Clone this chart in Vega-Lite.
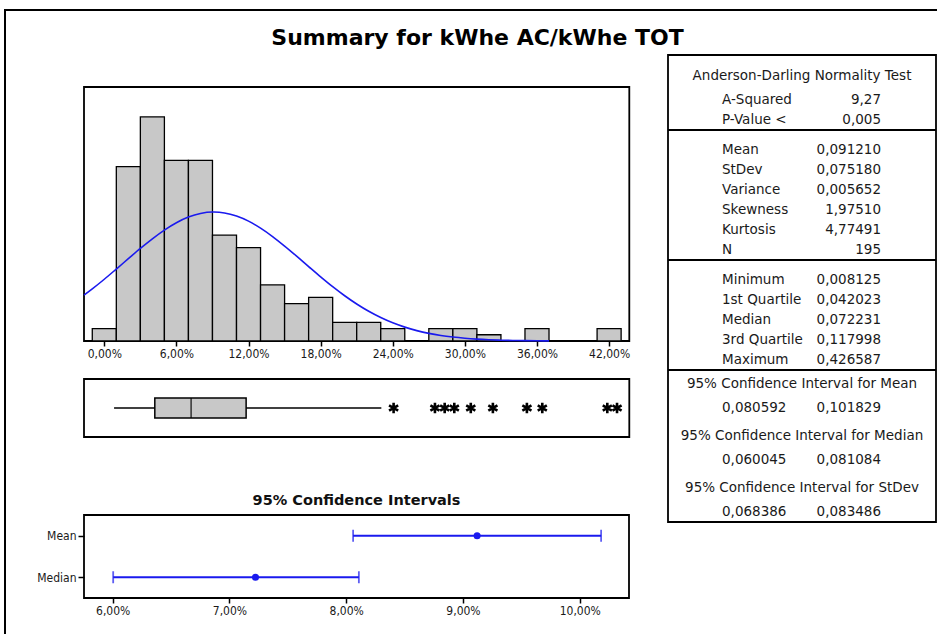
{
  "$schema": "https://vega.github.io/schema/vega-lite/v6.json",
  "width": 935,
  "height": 630,
  "autosize": {"type": "none"},
  "padding": {"left": 5, "top": 10, "right": 0, "bottom": 0},
  "background": "white",
  "title": {"text": "Summary for kWhe AC/kWhe TOT", "font": "DejaVu Sans", "fontSize": 22, "fontWeight": "bold", "color": "#000", "anchor": "middle", "frame": "group", "offset": -35, "baseline": "alphabetic", "dx": 5, "dy": 22},
  "config": {
    "font": "DejaVu Sans",
    "view": {"stroke": "#000", "strokeWidth": 2},
    "axis": {"domain": false, "grid": false, "tickColor": "#000", "tickWidth": 1.5, "tickSize": 5, "labelFont": "DejaVu Sans Condensed", "labelFontSize": 12, "labelColor": "#1a1a1a", "labelPadding": 2, "labelFlush": false, "labelOverlap": false}
  },
  "datasets": {
    "hist": [
      {"bin_start": -0.01, "bin_end": 0.01, "count": 2},
      {"bin_start": 0.01, "bin_end": 0.03, "count": 28},
      {"bin_start": 0.03, "bin_end": 0.05, "count": 36},
      {"bin_start": 0.05, "bin_end": 0.07, "count": 29},
      {"bin_start": 0.07, "bin_end": 0.09, "count": 29},
      {"bin_start": 0.09, "bin_end": 0.11, "count": 17},
      {"bin_start": 0.11, "bin_end": 0.13, "count": 15},
      {"bin_start": 0.13, "bin_end": 0.15, "count": 9},
      {"bin_start": 0.15, "bin_end": 0.17, "count": 6},
      {"bin_start": 0.17, "bin_end": 0.19, "count": 7},
      {"bin_start": 0.19, "bin_end": 0.21, "count": 3},
      {"bin_start": 0.21, "bin_end": 0.23, "count": 3},
      {"bin_start": 0.23, "bin_end": 0.25, "count": 2},
      {"bin_start": 0.27, "bin_end": 0.29, "count": 2},
      {"bin_start": 0.29, "bin_end": 0.31, "count": 2},
      {"bin_start": 0.31, "bin_end": 0.33, "count": 1},
      {"bin_start": 0.35, "bin_end": 0.37, "count": 2},
      {"bin_start": 0.41, "bin_end": 0.43, "count": 2}
    ],
    "curve": [
      {"x": -0.0169, "fit": 7.36}, {"x": -0.01, "fit": 8.37}, {"x": 0.0, "fit": 9.92}, {"x": 0.01, "fit": 11.56},
      {"x": 0.02, "fit": 13.22}, {"x": 0.03, "fit": 14.87}, {"x": 0.04, "fit": 16.42}, {"x": 0.05, "fit": 17.82},
      {"x": 0.06, "fit": 19.0}, {"x": 0.07, "fit": 19.9}, {"x": 0.08, "fit": 20.48}, {"x": 0.09, "fit": 20.71},
      {"x": 0.0912, "fit": 20.71}, {"x": 0.1, "fit": 20.57}, {"x": 0.11, "fit": 20.07}, {"x": 0.12, "fit": 19.25},
      {"x": 0.13, "fit": 18.13}, {"x": 0.14, "fit": 16.78}, {"x": 0.15, "fit": 15.25}, {"x": 0.16, "fit": 13.63},
      {"x": 0.17, "fit": 11.96}, {"x": 0.18, "fit": 10.31}, {"x": 0.19, "fit": 8.73}, {"x": 0.2, "fit": 7.27},
      {"x": 0.21, "fit": 5.94}, {"x": 0.22, "fit": 4.77}, {"x": 0.23, "fit": 3.77}, {"x": 0.24, "fit": 2.92},
      {"x": 0.25, "fit": 2.23}, {"x": 0.26, "fit": 1.67}, {"x": 0.27, "fit": 1.22}, {"x": 0.28, "fit": 0.88},
      {"x": 0.29, "fit": 0.63}, {"x": 0.3, "fit": 0.44}, {"x": 0.31, "fit": 0.3}, {"x": 0.32, "fit": 0.2},
      {"x": 0.33, "fit": 0.13}, {"x": 0.34, "fit": 0.087}, {"x": 0.35, "fit": 0.055}, {"x": 0.36, "fit": 0.035},
      {"x": 0.37, "fit": 0.021}
    ],
    "box": [
      {"series": "kWhe AC/kWhe TOT", "min": 0.008125, "q1": 0.042023, "median": 0.072231, "q3": 0.117998, "whisker_high": 0.2305}
    ],
    "outliers": [
      {"series": "kWhe AC/kWhe TOT", "value": 0.2407},
      {"series": "kWhe AC/kWhe TOT", "value": 0.2751},
      {"series": "kWhe AC/kWhe TOT", "value": 0.2832},
      {"series": "kWhe AC/kWhe TOT", "value": 0.2912},
      {"series": "kWhe AC/kWhe TOT", "value": 0.3049},
      {"series": "kWhe AC/kWhe TOT", "value": 0.3233},
      {"series": "kWhe AC/kWhe TOT", "value": 0.3516},
      {"series": "kWhe AC/kWhe TOT", "value": 0.3644},
      {"series": "kWhe AC/kWhe TOT", "value": 0.4185},
      {"series": "kWhe AC/kWhe TOT", "value": 0.426587}
    ],
    "ci": [
      {"stat": "Mean", "lower": 0.080592, "upper": 0.101829, "estimate": 0.09121},
      {"stat": "Median", "lower": 0.060045, "upper": 0.081084, "estimate": 0.072231}
    ],
    "table": [
      {"row": 1, "col": "heading", "text": "Anderson-Darling Normality Test"},
      {"row": 2.2, "col": "label", "text": "A-Squared"}, {"row": 2.2, "col": "value", "text": "9,27"},
      {"row": 3.2, "col": "label", "text": "P-Value <"}, {"row": 3.2, "col": "value", "text": "0,005"},
      {"row": 4.7, "col": "label", "text": "Mean"}, {"row": 4.7, "col": "value", "text": "0,091210"},
      {"row": 5.7, "col": "label", "text": "StDev"}, {"row": 5.7, "col": "value", "text": "0,075180"},
      {"row": 6.7, "col": "label", "text": "Variance"}, {"row": 6.7, "col": "value", "text": "0,005652"},
      {"row": 7.7, "col": "label", "text": "Skewness"}, {"row": 7.7, "col": "value", "text": "1,97510"},
      {"row": 8.7, "col": "label", "text": "Kurtosis"}, {"row": 8.7, "col": "value", "text": "4,77491"},
      {"row": 9.7, "col": "label", "text": "N"}, {"row": 9.7, "col": "value", "text": "195"},
      {"row": 11.2, "col": "label", "text": "Minimum"}, {"row": 11.2, "col": "value", "text": "0,008125"},
      {"row": 12.2, "col": "label", "text": "1st Quartile"}, {"row": 12.2, "col": "value", "text": "0,042023"},
      {"row": 13.2, "col": "label", "text": "Median"}, {"row": 13.2, "col": "value", "text": "0,072231"},
      {"row": 14.2, "col": "label", "text": "3rd Quartile"}, {"row": 14.2, "col": "value", "text": "0,117998"},
      {"row": 15.2, "col": "label", "text": "Maximum"}, {"row": 15.2, "col": "value", "text": "0,426587"},
      {"row": 16.4, "col": "heading", "text": "95% Confidence Interval for Mean"},
      {"row": 17.6, "col": "label", "text": "0,080592"}, {"row": 17.6, "col": "value", "text": "0,101829"},
      {"row": 19.0, "col": "heading", "text": "95% Confidence Interval for Median"},
      {"row": 20.2, "col": "label", "text": "0,060045"}, {"row": 20.2, "col": "value", "text": "0,081084"},
      {"row": 21.6, "col": "heading", "text": "95% Confidence Interval for StDev"},
      {"row": 22.8, "col": "label", "text": "0,068386"}, {"row": 22.8, "col": "value", "text": "0,083486"}
    ]
  },
  "resolve": {"scale": {"x": "independent", "y": "independent"}},
  "layer": [
    {
      "data": {"values": [{"panel": "histogram"}]},
      "mark": {"type": "rect", "fill": null, "stroke": "#000", "strokeWidth": 1.8},
      "encoding": {
        "x": {"datum": 0, "scale": {"domain": [0, 1], "range": [79, 624.3], "nice": false, "zero": false}, "axis": null},
        "x2": {"datum": 1},
        "y": {"datum": 0, "scale": {"domain": [0, 1], "range": [331, 77], "nice": false, "zero": false}, "axis": null},
        "y2": {"datum": 1}
      }
    },
    {
      "layer": [
        {
          "data": {"name": "hist"},
          "mark": {"type": "rect", "fill": "#c8c8c8", "stroke": "#000", "strokeWidth": 1.3},
          "encoding": {
            "x": {"field": "bin_start", "type": "quantitative", "title": null,
              "scale": {"domain": [-0.01689, 0.4368], "range": [79, 624.3], "nice": false, "zero": false},
              "axis": {"orient": "bottom", "offset": -299, "values": [0, 0.06, 0.12, 0.18, 0.24, 0.3, 0.36, 0.42], "labelExpr": "replace(format(datum.value, '.2%'), '.', ',')", "title": null}},
            "x2": {"field": "bin_end"},
            "y": {"field": "count", "type": "quantitative", "title": null, "scale": {"domain": [0, 40.8], "range": [331, 77], "nice": false, "zero": true}, "axis": null},
            "y2": {"datum": 0}
          }
        },
        {
          "data": {"name": "curve"},
          "mark": {"type": "line", "color": "#1a1aee", "strokeWidth": 1.6, "interpolate": "monotone"},
          "encoding": {
            "x": {"field": "x", "type": "quantitative", "title": null},
            "y": {"field": "fit", "type": "quantitative", "title": null, "axis": null}
          }
        }
      ]
    },
    {
      "data": {"values": [{"panel": "boxplot"}]},
      "mark": {"type": "rect", "fill": null, "stroke": "#000", "strokeWidth": 1.8},
      "encoding": {
        "x": {"datum": 0, "scale": {"domain": [0, 1], "range": [79, 624.3], "nice": false, "zero": false}, "axis": null},
        "x2": {"datum": 1},
        "y": {"datum": 0, "scale": {"domain": [0, 1], "range": [427, 369], "nice": false, "zero": false}, "axis": null},
        "y2": {"datum": 1}
      }
    },
    {
      "layer": [
        {
          "data": {"name": "box"},
          "mark": {"type": "rule", "color": "#000", "strokeWidth": 1.5},
          "encoding": {
            "x": {"field": "min", "type": "quantitative", "title": null, "scale": {"domain": [-0.01689, 0.4368], "range": [79, 624.3], "nice": false, "zero": false}, "axis": null},
            "x2": {"field": "whisker_high"},
            "y": {"field": "series", "type": "nominal", "title": null, "scale": {"type": "point", "domain": ["kWhe AC/kWhe TOT"], "range": [369, 427], "padding": 0.5}, "axis": null}
          }
        },
        {
          "data": {"name": "box"},
          "mark": {"type": "bar", "fill": "#c8c8c8", "stroke": "#000", "strokeWidth": 1.5, "size": 20},
          "encoding": {
            "x": {"field": "q1", "type": "quantitative", "title": null, "axis": null},
            "x2": {"field": "q3"},
            "y": {"field": "series", "type": "nominal", "title": null, "axis": null}
          }
        },
        {
          "data": {"name": "box"},
          "mark": {"type": "tick", "color": "#000", "size": 20, "thickness": 1.6},
          "encoding": {
            "x": {"field": "median", "type": "quantitative", "title": null, "axis": null},
            "y": {"field": "series", "type": "nominal", "title": null, "axis": null}
          }
        },
        {
          "data": {"name": "outliers"},
          "mark": {"type": "point", "shape": "M0,-1V1M-0.87,-0.5L0.87,0.5M-0.87,0.5L0.87,-0.5", "filled": false, "stroke": "#000", "strokeWidth": 2.6, "size": 110, "opacity": 1},
          "encoding": {
            "x": {"field": "value", "type": "quantitative", "title": null, "axis": null},
            "y": {"field": "series", "type": "nominal", "title": null, "axis": null}
          }
        }
      ]
    },
    {
      "data": {"values": [{"panel": "confidence intervals"}]},
      "mark": {"type": "rect", "fill": null, "stroke": "#000", "strokeWidth": 1.8},
      "encoding": {
        "x": {"datum": 0, "scale": {"domain": [0, 1], "range": [79, 624], "nice": false, "zero": false}, "axis": null},
        "x2": {"datum": 1},
        "y": {"datum": 0, "scale": {"domain": [0, 1], "range": [588, 505], "nice": false, "zero": false}, "axis": null},
        "y2": {"datum": 1}
      }
    },
    {
      "layer": [
        {
          "data": {"name": "ci"},
          "mark": {"type": "rule", "color": "#1a1aee", "strokeWidth": 1.8},
          "encoding": {
            "x": {"field": "lower", "type": "quantitative", "title": null,
              "scale": {"domain": [0.057546, 0.104217], "range": [79, 624], "nice": false, "zero": false},
              "axis": {"orient": "bottom", "offset": -42, "values": [0.06, 0.07, 0.08, 0.09, 0.1], "labelExpr": "replace(format(datum.value, '.2%'), '.', ',')", "title": null}},
            "x2": {"field": "upper"},
            "y": {"field": "stat", "type": "nominal", "title": null,
              "scale": {"type": "point", "domain": ["Mean", "Median"], "range": [505, 588], "padding": 0.5},
              "axis": {"orient": "left", "offset": -79, "tickSize": 6, "title": null}}
          }
        },
        {
          "data": {"name": "ci"},
          "mark": {"type": "tick", "color": "#1a1aee", "size": 12, "thickness": 1.8},
          "encoding": {
            "x": {"field": "lower", "type": "quantitative", "title": null},
            "y": {"field": "stat", "type": "nominal", "title": null}
          }
        },
        {
          "data": {"name": "ci"},
          "mark": {"type": "tick", "color": "#1a1aee", "size": 12, "thickness": 1.8},
          "encoding": {
            "x": {"field": "upper", "type": "quantitative", "title": null},
            "y": {"field": "stat", "type": "nominal", "title": null}
          }
        },
        {
          "data": {"name": "ci"},
          "mark": {"type": "point", "filled": true, "color": "#1a1aee", "size": 50, "opacity": 1},
          "encoding": {
            "x": {"field": "estimate", "type": "quantitative", "title": null},
            "y": {"field": "stat", "type": "nominal", "title": null}
          }
        },
        {
          "data": {"values": [{"heading": "95% Confidence Intervals"}]},
          "mark": {"type": "text", "font": "DejaVu Sans", "fontWeight": "bold", "fontSize": 14.5, "color": "#111", "align": "center", "baseline": "middle", "dy": -35},
          "encoding": {
            "x": {"datum": 0.080882},
            "y": {"datum": "Mean"},
            "text": {"field": "heading"}
          }
        }
      ]
    },
    {
      "layer": [
        {
          "data": {"values": [{"panel": "statistics table"}]},
          "mark": {"type": "rect", "fill": null, "stroke": "#000", "strokeWidth": 1.8},
          "encoding": {
            "x": {"datum": 0, "scale": {"domain": [0, 1], "range": [663, 931], "nice": false, "zero": false}, "axis": null},
            "x2": {"datum": 1},
            "y": {"datum": -0.05, "scale": {"domain": [1, 22.8], "range": [66, 502], "nice": false, "zero": false}, "axis": null},
            "y2": {"datum": 23.3}
          }
        },
        {
          "data": {"name": "table"},
          "transform": [{"filter": {"field": "text", "oneOf": ["P-Value <", "N", "Maximum"]}}],
          "mark": {"type": "rule", "color": "#000", "strokeWidth": 1.8, "yOffset": 10},
          "encoding": {
            "x": {"datum": 0, "axis": null},
            "x2": {"datum": 1},
            "y": {"field": "row", "type": "quantitative", "axis": null}
          }
        },
        {
          "data": {"name": "table"},
          "transform": [{"filter": "datum.col == 'label'"}],
          "mark": {"type": "text", "align": "left", "baseline": "middle", "font": "DejaVu Sans", "fontSize": 13.5, "color": "#1a1a1a"},
          "encoding": {
            "x": {"datum": 0.2015, "axis": null},
            "y": {"field": "row", "type": "quantitative", "axis": null},
            "text": {"field": "text"}
          }
        },
        {
          "data": {"name": "table"},
          "transform": [{"filter": "datum.col == 'value'"}],
          "mark": {"type": "text", "align": "right", "baseline": "middle", "font": "DejaVu Sans", "fontSize": 13.5, "color": "#1a1a1a"},
          "encoding": {
            "x": {"datum": 0.7948, "axis": null},
            "y": {"field": "row", "type": "quantitative", "axis": null},
            "text": {"field": "text"}
          }
        },
        {
          "data": {"name": "table"},
          "transform": [{"filter": "datum.col == 'heading'"}],
          "mark": {"type": "text", "align": "center", "baseline": "middle", "font": "DejaVu Sans", "fontSize": 13.5, "color": "#1a1a1a"},
          "encoding": {
            "x": {"datum": 0.5, "axis": null},
            "y": {"field": "row", "type": "quantitative", "axis": null},
            "text": {"field": "text"}
          }
        }
      ]
    }
  ]
}
